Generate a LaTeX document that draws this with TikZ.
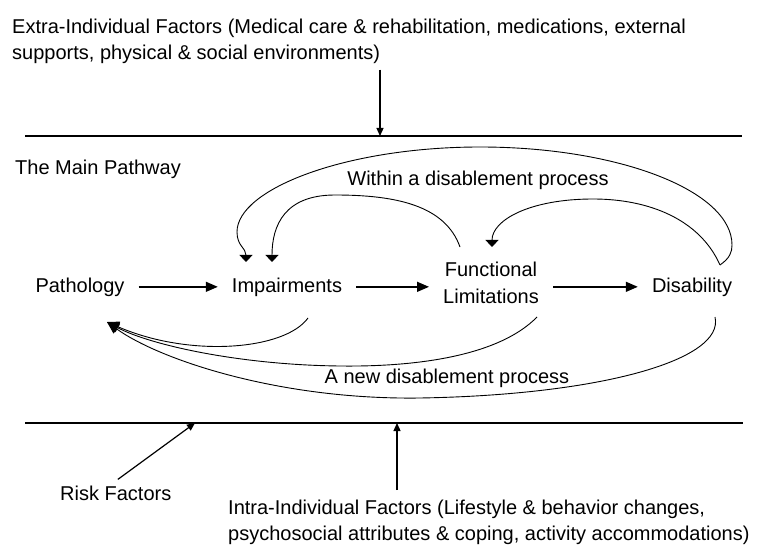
\documentclass[tikz,border=0pt]{standalone}
\usepackage{fontspec}
\setmainfont{Liberation Sans}
\usetikzlibrary{arrows.meta}

\begin{document}
\begin{tikzpicture}[x=1pt, y=-1pt,
    lbl/.style={inner sep=0pt, font=\fontsize{20}{25.5}\selectfont},
    stage/.style={inner xsep=14pt, inner ysep=0pt, font=\fontsize{20}{27}\selectfont, align=center},
    flow/.style={line width=1.4pt, -{Triangle[length=12pt,width=10pt]}},
    push/.style={line width=1.2pt, -{Triangle[length=8pt,width=7pt]}},
    feedback/.style={line width=0.9pt, -{Triangle[length=7pt,width=13pt]}},
    renew/.style={line width=0.9pt, -{Triangle[length=12pt,width=11pt]}},
    band/.style={line width=2.2pt}]
  \useasboundingbox (0,0) rectangle (765,545);
  % borders of the main pathway
  \coordinate (tl) at (25,136);
  \coordinate (tr) at (742,136);
  \coordinate (bl) at (25,423);
  \coordinate (br) at (743,423);
  \draw[band] (tl) -- (tr);
  \draw[band] (bl) -- (br);

  % influences from outside
  \node[lbl, anchor=north west, align=left] (extra) at (12,19)
    {Extra-Individual Factors (Medical care \& rehabilitation, medications, external\\supports, physical \& social environments)};
  \coordinate (tin) at (380,136);
  \draw[push, shorten <=6pt] (extra.south -| tin) -- (tin);

  \node[lbl, anchor=base west] (title) at (15,175) {The Main Pathway};

  % stages
  \node[stage, anchor=base] (patho) at (80,292) {Pathology};
  \node[stage, anchor=base] (imp) at (287,292) {Impairments};
  \node[stage] (fl) at (491,283) {Functional\\Limitations};
  \node[stage, anchor=base] (dis) at (692,292) {Disability};
  \draw[flow] (patho) -- (imp);
  \draw[flow] (imp) -- (imp -| fl.west);
  \draw[flow] (fl.east |- dis) -- (dis);

  % within a disablement process
  \coordinate (dtop) at (720,265);
  \coordinate (ftop) at (460,247);
  \draw[feedback] (dtop) .. controls (730,258) and (732,252) .. (732,245)
    .. controls (732,191) and (619,147) .. (480,147)
    .. controls (346,147) and (237,189) .. (237,232)
    .. controls (237,246) and (246,248) .. (246,262);
  \draw[feedback] (ftop) .. controls (445,205) and (395,195) .. (335,195)
    .. controls (285,195) and (272,225) .. (272,262);
  \draw[feedback] (dtop) .. controls (700,220) and (650,199) .. (593,199)
    .. controls (530,199) and (492,220) .. (492,247);
  \node[lbl] (within) at (478,180) {Within a disablement process};

  % a new disablement process
  \coordinate (ptip) at (107,322);
  \coordinate (ibot) at (308,318);
  \coordinate (fbot) at (537,317);
  \coordinate (dbot) at (715,317);
  \draw[renew] (ibot) .. controls (285,350) and (190,358) .. (ptip);
  \draw[renew] (fbot) .. controls (500,355) and (420,367) .. (340,366)
    .. controls (240,365) and (150,345) .. (ptip);
  \draw[renew] (dbot) .. controls (725,360) and (600,395) .. (420,398)
    .. controls (280,400) and (160,360) .. (ptip);
  \node[lbl] (anew) at (447,378) {A new disablement process};

  % influences from inside
  \node[lbl, anchor=base west] (risk) at (60,500) {Risk Factors};
  \coordinate (rin) at (195,423);
  \draw[push, shorten <=10pt] ([xshift=-6pt]risk.north) -- (rin);
  \node[lbl, anchor=north west, align=left] (intra) at (228,500)
    {Intra-Individual Factors (Lifestyle \& behavior changes,\\psychosocial attributes \& coping, activity accommodations)};
  \coordinate (iin) at (397,423);
  \draw[push, shorten <=10pt] (intra.north -| iin) -- (iin);
\end{tikzpicture}
\end{document}
